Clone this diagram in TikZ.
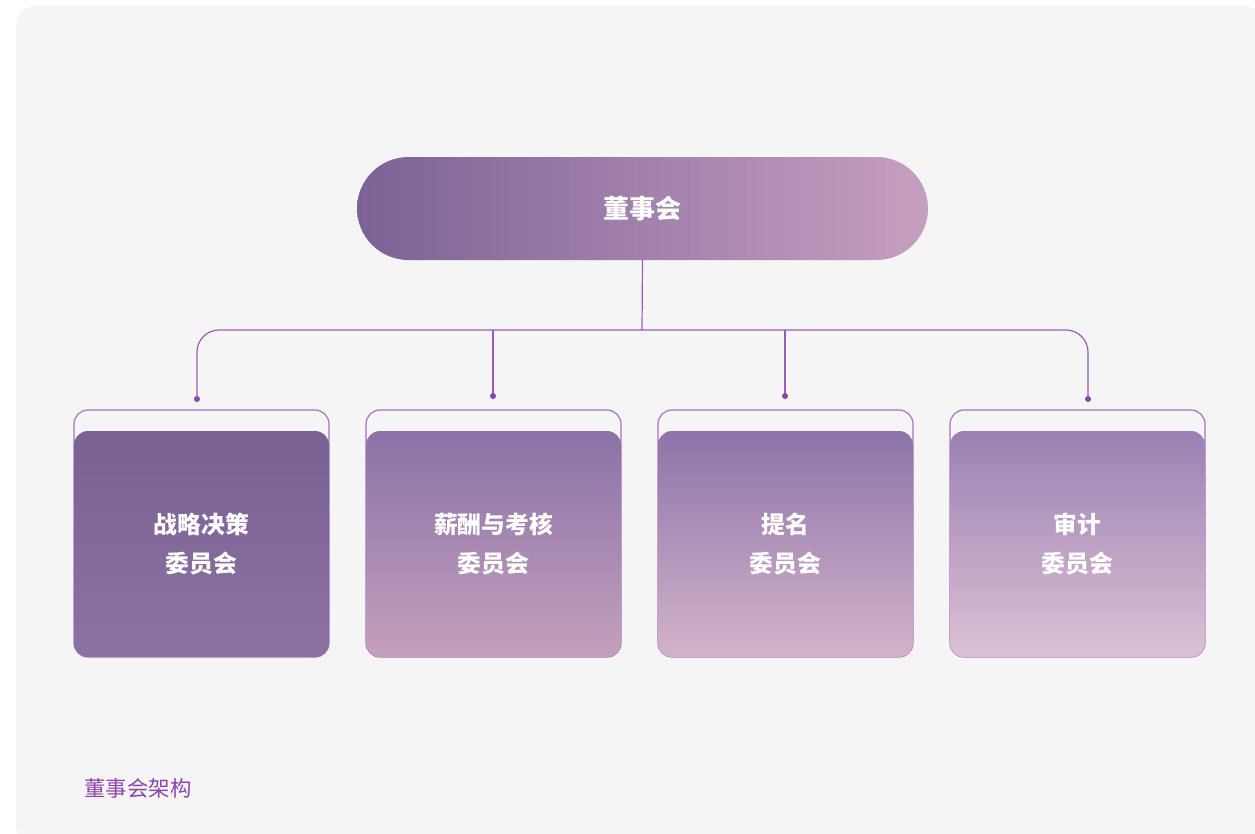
\documentclass[tikz,border=0pt]{standalone}
\usepackage{fontspec}
\setmainfont{Noto Sans CJK SC}
\definecolor{panelgray}{HTML}{F5F5F5}
\definecolor{linkpurple}{HTML}{9E5BB5}
\definecolor{dotpurple}{HTML}{8E44AD}
\definecolor{framepurple}{HTML}{A971C2}
\definecolor{boardleft}{HTML}{7D6297}
\definecolor{boardright}{HTML}{C79FC0}
\definecolor{cAtop}{HTML}{7A6194}\definecolor{cAmid}{HTML}{7F6699}\definecolor{cAbot}{HTML}{8C72A2}
\definecolor{cBtop}{HTML}{8A71A7}\definecolor{cBmid}{HTML}{9279AC}\definecolor{cBbot}{HTML}{C4A0BC}
\definecolor{cCtop}{HTML}{8D74A9}\definecolor{cCmid}{HTML}{9A84B4}\definecolor{cCbot}{HTML}{D3B3CA}
\definecolor{cDtop}{HTML}{9B81B3}\definecolor{cDmid}{HTML}{AF97C1}\definecolor{cDbot}{HTML}{DCC1D4}
\tikzset{
  board/.style={rectangle, rounded corners=51.5, minimum width=571, minimum height=103,
    inner sep=0, left color=boardleft, right color=boardright, text=white,
    font=\fontsize{26}{30}\selectfont\bfseries},
  frame/.style={draw=framepurple, line width=1.2, rounded corners=14,
    minimum width=255, minimum height=247, inner sep=0},
  committee/.style={rectangle, rounded corners=14, minimum width=255, minimum height=226,
    inner sep=0, align=center, text=white, font=\fontsize{23.8}{39}\selectfont\bfseries},
  link/.style={draw=linkpurple, line width=1.2},
}
\begin{document}
\begin{tikzpicture}[x=1pt,y=-1pt]
\useasboundingbox (0,0) rectangle (1255,833);
\fill[white] (0,0) rectangle (1255,833);
\fill[panelgray, rounded corners=20] (16,6) rectangle (1264,846);
% top
\node[board] (board) at (642.5,208.5) {董事会};
% committees
\foreach \x/\n/\ct/\cm/\cb/\t in {201.5/c1/cAtop/cAmid/cAbot/{战略决策\\委员会},
    493.5/c2/cBtop/cBmid/cBbot/{薪酬与考核\\委员会},
    785.5/c3/cCtop/cCmid/cCbot/{提名\\委员会},
    1077.5/c4/cDtop/cDmid/cDbot/{审计\\委员会}}{
  \node[frame] (f\n) at (\x,533.5) {};
  \node[committee, top color=\ct, middle color=\cm, bottom color=\cb] (\n) at (\x,544) {\t};
}
% connectors
\coordinate (bus) at (642,330);
\coordinate (d1) at (197,399);
\coordinate (d2) at (493,396);
\coordinate (d3) at (785,396);
\coordinate (d4) at (1088,399);
\draw[link] (board.south) -- (bus);
\draw[link, rounded corners=22] (d1) -- (d1 |- bus) -- (d4 |- bus) -- (d4);
\draw[link] (d2 |- bus) -- (d2);
\draw[link] (d3 |- bus) -- (d3);
\foreach \d in {d1,d2,d3,d4}
  \fill[dotpurple] (\d) circle (3);
\node[anchor=west, text=dotpurple, font=\fontsize{21.4}{25}\selectfont] (caption) at (81,788) {董事会架构};
\end{tikzpicture}
\end{document}
